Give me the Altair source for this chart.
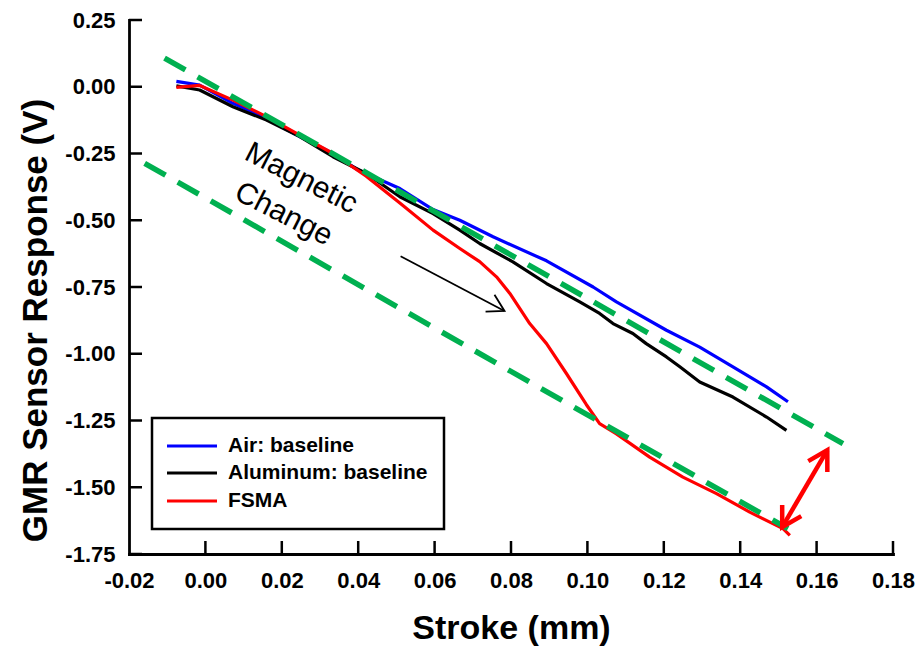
import altair as alt
import pandas as pd

# ---------------- data ----------------
air_x = [-0.0076, -0.0015, 0.0072, 0.0142, 0.0247, 0.0334, 0.0400, 0.0509, 0.0596, 0.0666,
         0.0753, 0.0893, 0.1015, 0.1076, 0.1207, 0.1294, 0.1381, 0.1469, 0.1525]
air_y = [0.020, 0.006, -0.062, -0.106, -0.187, -0.250, -0.312, -0.381, -0.460, -0.500,
         -0.562, -0.652, -0.750, -0.806, -0.912, -0.975, -1.049, -1.124, -1.180]

al_x = [-0.0076, -0.0015, 0.0072, 0.0160, 0.0247, 0.0334, 0.0421, 0.0509, 0.0596, 0.0666,
        0.0718, 0.0805, 0.0893, 0.0980, 0.1032, 0.1067, 0.1119, 0.1154, 0.1207, 0.1242,
        0.1294, 0.1381, 0.1469, 0.1521]
al_y = [0.003, -0.012, -0.075, -0.125, -0.187, -0.262, -0.325, -0.412, -0.475, -0.537,
        -0.587, -0.656, -0.737, -0.806, -0.849, -0.887, -0.924, -0.962, -1.012, -1.049,
        -1.106, -1.162, -1.237, -1.287]

fsma_x = [-0.0076, -0.0015, 0.0072, 0.0160, 0.0247, 0.0334, 0.0421, 0.0509, 0.0596, 0.0666,
          0.0718, 0.0762, 0.0797, 0.0849, 0.0893, 0.0945, 0.0997, 0.1032, 0.1076, 0.1163,
          0.1250, 0.1338, 0.1425, 0.1512, 0.1530]
fsma_y = [-0.002, 0.005, -0.050, -0.112, -0.181, -0.250, -0.335, -0.435, -0.537, -0.606,
          -0.655, -0.712, -0.774, -0.887, -0.962, -1.074, -1.190, -1.262, -1.300, -1.387,
          -1.462, -1.524, -1.593, -1.655, -1.680]

series_names = ["Air: baseline", "Aluminum: baseline", "FSMA"]
series_colors = ["#0000FF", "#000000", "#FF0000"]

fit_upper_x = [-0.0107, 0.1669]
fit_upper_y = [0.1076, -1.337]
fit_lower_x = [-0.0159, 0.1525]
fit_lower_y = [-0.287, -1.655]

red_arrow_x = [0.1510, 0.1628]
red_arrow_y = [-1.649, -1.361]
black_arrow_x = [0.0511, 0.0783]
black_arrow_y = [-0.6346, -0.8396]

note_text = ["Magnetic", "Change"]
note_x = [0.0251, 0.0205]
note_y = [-0.343, -0.477]

x_ticks = [-0.02, 0.00, 0.02, 0.04, 0.06, 0.08, 0.10, 0.12, 0.14, 0.16, 0.18]
y_ticks = [0.25, 0.00, -0.25, -0.50, -0.75, -1.00, -1.25, -1.50, -1.75]

FONT = "Liberation Sans"
W, H = 764, 534

label_expr = ("datum.value < -0.000001 ? '-' + format(-datum.value, '.2f') "
              ": format(abs(datum.value), '.2f')")

xs = alt.Scale(domain=[-0.02, 0.18], nice=False, zero=False)
ys = alt.Scale(domain=[-1.75, 0.25], nice=False, zero=False)

axis_common = dict(grid=False, ticks=False, tickSize=0, labelOverlap=False,
                   domainColor="black", domainWidth=2.8, domainCap="square",
                   domainOpacity=1,
                   labelFont=FONT, labelFontSize=22, labelFontWeight="bold",
                   labelColor="black", titleFont=FONT, titleFontWeight="bold",
                   titleColor="black")

x_axis = alt.Axis(values=x_ticks, labelExpr=label_expr, title="Stroke (mm)",
                  labelPadding=16, labelFlush=False,
                  titleY=84, titleBaseline="alphabetic", titleFontSize=34,
                  **axis_common)
y_axis = alt.Axis(values=y_ticks, labelExpr=label_expr, title="GMR Sensor Response (V)",
                  labelPadding=14, titleX=-94, titleY=300, titleAlign="center",
                  titleBaseline="middle", titleFontSize=35, **axis_common)


def X(field):
    return alt.X(field, scale=xs, axis=x_axis)


def Y(field):
    return alt.Y(field, scale=ys, axis=y_axis)


def line_layer(xv, yv, color, width=3.2, dash=None):
    df = pd.DataFrame({"x": xv, "y": yv})
    kw = dict(color=color, strokeWidth=width, strokeJoin="round")
    if dash:
        kw["strokeDash"] = dash
        kw["strokeCap"] = "butt"
    return alt.Chart(df).mark_line(**kw).encode(x=X("x:Q"), y=Y("y:Q"))


def head_layer(xv, yv, color, angle, size, width):
    df = pd.DataFrame({"x": [xv], "y": [yv]})
    return alt.Chart(df).mark_point(
        shape="M-0.58,1L0,0L0.58,1", filled=False, color=color, opacity=1,
        strokeWidth=width, size=size, angle=angle, strokeJoin="miter",
    ).encode(x=X("x:Q"), y=Y("y:Q"))


layers = []
layers.append(line_layer(air_x, air_y, series_colors[0]))
layers.append(line_layer(al_x, al_y, series_colors[1]))
layers.append(line_layer(fsma_x, fsma_y, series_colors[2]))

# green dashed guides
layers.append(line_layer(fit_upper_x, fit_upper_y, "#00B050", width=5.5, dash=[24, 14]))
layers.append(line_layer(fit_lower_x, fit_lower_y, "#00B050", width=5.5, dash=[24, 14]))

# red double arrow
layers.append(line_layer(red_arrow_x, red_arrow_y, "#FF0000", width=4.5))
layers.append(head_layer(red_arrow_x[1], red_arrow_y[1], "#FF0000", 30, 1444, 4.5))
layers.append(head_layer(red_arrow_x[0], red_arrow_y[0], "#FF0000", 210, 1444, 4.5))

# black arrow
layers.append(line_layer(black_arrow_x, black_arrow_y, "#000000", width=1.8))
layers.append(head_layer(black_arrow_x[1], black_arrow_y[1], "#000000", 118, 1076, 1.8))

# annotation text
note_df = pd.DataFrame({"x": note_x, "y": note_y, "t": note_text})
layers.append(alt.Chart(note_df).mark_text(
    font=FONT, fontSize=30, angle=27, align="center", baseline="middle", color="black"
).encode(x=X("x:Q"), y=Y("y:Q"), text="t:N"))

# inward tick marks
xt_df = pd.DataFrame({"v": x_ticks[1:]})
layers.append(alt.Chart(xt_df).mark_tick(
    orient="vertical", color="black", thickness=2.5, size=13, opacity=1
).encode(x=X("v:Q"), y=alt.value(H - 6.5)))
yt_df = pd.DataFrame({"v": y_ticks})
layers.append(alt.Chart(yt_df).mark_tick(
    orient="horizontal", color="black", thickness=2.5, size=13, opacity=1
).encode(y=Y("v:Q"), x=alt.value(6.5)))

# legend box
box_df = pd.DataFrame({"k": [0]})
layers.append(alt.Chart(box_df).mark_rect(
    fill="white", stroke="black", strokeWidth=2.5
).encode(x=alt.value(23), x2=alt.value(315), y=alt.value(398), y2=alt.value(509)))
row_y = [426, 453, 481]
for name, col, ry in zip(series_names, series_colors, row_y):
    ldf = pd.DataFrame({"label": [name]})
    layers.append(alt.Chart(ldf).mark_rule(color=col, strokeWidth=3).encode(
        x=alt.value(38), x2=alt.value(88), y=alt.value(ry)))
    layers.append(alt.Chart(ldf).mark_text(
        font=FONT, fontSize=21, fontWeight="bold", align="left", baseline="middle",
        color="black"
    ).encode(x=alt.value(99), y=alt.value(ry), text="label:N"))

chart = alt.layer(*layers).properties(
    width=W, height=H,
    background="white",
    autosize=alt.AutoSizeParams(type="none"),
    padding={"left": 129, "top": 20, "right": 28, "bottom": 100},
).configure_view(stroke=None)

chart.save("out.html", embed_options={"renderer": "svg", "actions": False})
